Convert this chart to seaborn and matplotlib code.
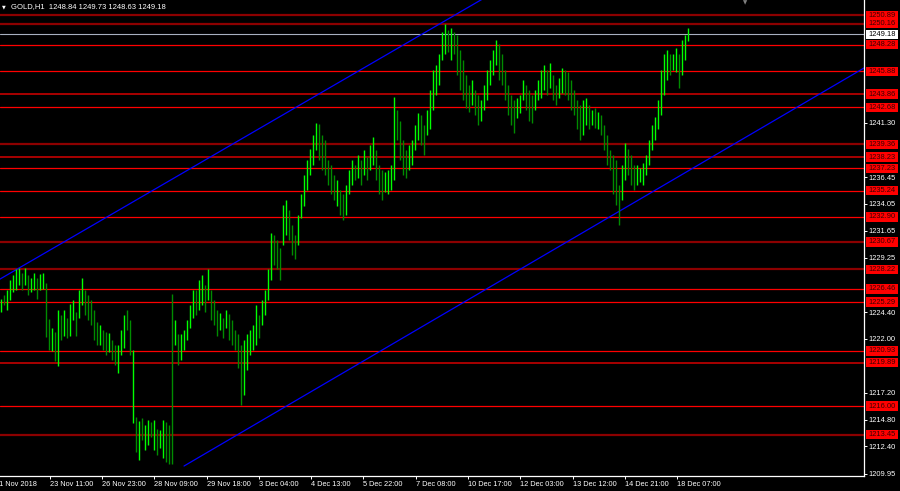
import seaborn as sns
import matplotlib.pyplot as plt
import pandas as pd
from matplotlib.patches import Rectangle
from matplotlib.transforms import blended_transform_factory

sns.set_theme(style="dark", rc={"axes.facecolor": "black", "figure.facecolor": "black",
                                "axes.grid": False})
plt.rcParams["font.family"] = ["Liberation Sans", "DejaVu Sans"]

# GOLD H1 bars (high / low per bar, U = bull, D = bear)
hi = [
    1225.6, 1225.9, 1226.4, 1227.3, 1227.7, 1228.2, 1228.3, 1227.9, 1228.3, 1227.7, 1227.4, 1227.9, 1227.4, 1227.8, 1227.9,
    1227.0, 1223.8, 1223.0, 1222.6, 1224.6,
    1224.1, 1224.6, 1223.9, 1225.1, 1225.5, 1224.4, 1226.4, 1227.4, 1226.4, 1225.9,
    1225.5, 1224.6, 1223.5, 1223.2, 1222.8, 1222.6, 1222.5, 1221.9, 1221.5, 1221.5, 1222.8, 1224.1, 1224.6, 1223.7,
    1221.0,
    1215.0, 1214.7, 1214.9, 1214.3, 1214.8, 1214.6, 1214.8, 1214.0, 1213.9, 1214.8, 1214.6, 1214.3,
    1226.0,
    1223.7, 1222.4, 1222.4, 1222.8, 1223.7,
    1225.0, 1226.4, 1226.4, 1227.3, 1227.7, 1226.8, 1228.2,
    1226.4, 1225.5, 1224.6, 1224.3, 1223.9, 1224.6, 1224.2, 1223.7,
    1222.8, 1222.4, 1221.5, 1221.9, 1222.4, 1222.8,
    1223.2, 1225.0, 1224.1, 1225.5, 1226.4, 1228.2,
    1231.5, 1231.3, 1230.8, 1230.1, 1234.0, 1234.4, 1233.5, 1232.2, 1231.3, 1233.1, 1234.9, 1236.6, 1238.0,
    1239.0, 1240.2, 1241.3, 1241.2, 1240.2, 1239.8, 1238.0, 1237.5, 1236.6, 1236.2, 1235.3, 1234.9, 1235.7,
    1237.1, 1238.0, 1237.5, 1238.4, 1238.0, 1238.9, 1238.2, 1239.3, 1240.0, 1238.9, 1237.5, 1237.1, 1236.9, 1237.1, 1237.5,
    1243.6, 1242.4, 1241.5, 1239.8, 1238.9, 1239.3, 1239.8, 1241.1, 1242.2, 1242.0, 1241.1, 1242.4, 1244.2, 1246.0, 1246.5, 1247.4,
    1249.4, 1250.1, 1249.6, 1249.8, 1249.4, 1249.1, 1247.8, 1246.9, 1245.6, 1244.7, 1245.1, 1244.2,
    1243.8, 1243.3, 1244.7, 1246.0, 1246.9, 1247.8, 1248.7, 1248.3, 1247.4, 1246.0, 1244.7, 1243.8,
    1243.3, 1243.5, 1243.8, 1245.1, 1244.7, 1244.2, 1243.8, 1244.2, 1245.1, 1246.0, 1246.5, 1246.0, 1246.6, 1245.6, 1244.7,
    1245.3, 1246.2, 1246.0, 1245.8, 1245.1, 1244.2, 1243.3, 1242.9, 1243.3, 1243.5, 1242.9, 1242.4, 1242.6, 1242.3, 1242.0,
    1241.1, 1240.2, 1238.9, 1238.4, 1238.0, 1235.7, 1237.5, 1239.5, 1239.0, 1238.4, 1237.5, 1237.5, 1237.3, 1237.7, 1238.4,
    1239.8, 1241.1, 1241.8, 1243.3, 1246.0, 1247.4, 1247.8, 1247.4, 1247.4, 1248.0, 1247.4, 1248.7, 1249.1, 1249.73,
]
lo = [
    1224.4, 1225.0, 1224.6, 1225.5, 1226.2, 1226.4, 1226.8, 1226.4, 1226.8, 1225.9, 1226.2, 1226.4, 1225.6, 1226.4, 1226.5,
    1222.2, 1221.0, 1220.9, 1220.0, 1219.6,
    1221.9, 1222.3, 1222.1, 1222.3, 1223.7, 1222.3, 1223.9, 1225.0, 1224.1, 1223.7,
    1223.2, 1221.9, 1221.5, 1221.5, 1221.0, 1220.6, 1220.8, 1220.1, 1219.7, 1219.0, 1220.6, 1221.2, 1222.8, 1220.6,
    1214.5,
    1211.9, 1211.2, 1213.0, 1212.1, 1212.5, 1213.2, 1212.1, 1211.6, 1212.3, 1211.4, 1211.0, 1210.8,
    1210.8,
    1221.5, 1219.7, 1220.1, 1221.0, 1221.9,
    1223.0, 1223.9, 1224.1, 1224.6, 1225.0, 1224.4, 1225.5,
    1223.7, 1223.2, 1222.3, 1222.8, 1222.1, 1223.0, 1221.9, 1221.5,
    1221.0, 1219.4, 1216.1, 1217.0, 1219.2, 1220.6,
    1221.0, 1221.5, 1222.1, 1223.2, 1224.1, 1225.5,
    1227.3, 1228.6, 1228.2, 1227.3, 1230.4, 1231.3, 1230.8, 1229.5, 1229.1, 1230.4, 1232.8, 1233.9, 1235.3,
    1236.6, 1237.5, 1238.9, 1238.0, 1237.1, 1236.6, 1235.7, 1234.9, 1234.4, 1233.9, 1233.1, 1232.6, 1233.1,
    1234.9, 1235.7, 1236.2, 1236.4, 1235.7, 1236.6, 1236.2, 1237.1, 1237.5, 1236.2, 1234.9, 1234.4, 1235.1, 1234.9, 1235.3,
    1236.2, 1239.8, 1238.0, 1236.6, 1236.4, 1237.1, 1237.5, 1238.9, 1239.8, 1239.3, 1238.4, 1240.2, 1240.7, 1242.4, 1243.8, 1244.7,
    1246.9, 1247.4, 1247.6, 1246.9, 1247.4, 1245.6, 1244.2, 1243.3, 1242.6, 1242.3, 1242.9, 1242.0,
    1241.1, 1241.5, 1242.4, 1243.3, 1244.7, 1245.6, 1246.5, 1245.1, 1244.7, 1243.3, 1242.0, 1241.1,
    1240.4, 1241.7, 1242.2, 1243.3, 1242.4, 1241.5, 1241.3, 1242.4, 1243.3, 1243.5, 1244.2, 1243.8, 1244.4, 1243.3, 1242.9,
    1243.5, 1244.0, 1243.8, 1243.3, 1242.4, 1242.0, 1240.7, 1239.8, 1240.2, 1241.1, 1240.7, 1241.1, 1240.8, 1240.7, 1240.2,
    1238.9, 1237.5, 1237.1, 1234.9, 1234.0, 1232.2, 1234.4, 1236.2, 1236.6, 1235.7, 1235.3, 1235.7, 1236.0, 1235.7, 1236.6,
    1237.5, 1238.9, 1239.8, 1240.7, 1242.0, 1243.8, 1245.1, 1245.6, 1246.0, 1245.8, 1244.4, 1245.6, 1246.9, 1248.63,
]
direction = list(
    "UDUUUUUDUDUUDUU" "DDUDU" "DUDUUDUUDD" "DDDUDDUDDUUUDD" "U" "DUDUUDUDUUDD" "D"
    "UDUUU" "UUDUUDU" "DDDUDUDD" "DDDUUU" "UUDUUU"
    "UDDDUUDDDUUUUUUUDDDDDDUDDU" "UUDUDUDUUDDDUUU" "UDDDDUUUUDDUUUUU"
    "UUDUDDDDDDUDDUUUUUUDDDDD" "DUUUDDDUUUUDUDDUUDDDDDDUUDUDUD"
    "DDDDDDUUDDDUUUUUUUUUUUDUUDUUU"
)

# horizontal levels drawn on the chart
levels = [1250.89, 1250.16, 1248.28, 1245.88, 1243.86, 1242.68, 1239.36, 1238.23, 1237.23,
          1235.24, 1232.90, 1230.67, 1228.22, 1226.46, 1225.29, 1220.93, 1219.89, 1216.00, 1213.45]
dark_levels = [1250.89, 1250.16, 1239.36, 1230.67, 1228.22, 1213.45]
mid_levels = [1243.86, 1238.23, 1219.89]
bid = 1249.18

# channel lines (bar index, price)
chan_up_x = [-1, 175]
chan_up_y = [1227.24, 1254.6]
chan_lo_x = [61, 288]
chan_lo_y = [1210.65, 1246.24]

# scale labels that are not hidden behind the line labels
price_ticks = [1209.95, 1212.40, 1214.80, 1217.20, 1222.00, 1224.40, 1229.25,
               1231.65, 1234.05, 1236.45, 1241.30]
time_tick_bars = [16.3, 33.7, 51, 68.7, 86, 103.3, 120.7, 138.3, 155.7, 173, 190.7, 208, 225.3]
time_labels = ["23 Nov 11:00", "26 Nov 23:00", "28 Nov 09:00", "29 Nov 18:00", "3 Dec 04:00",
               "4 Dec 13:00", "5 Dec 22:00", "7 Dec 08:00", "10 Dec 17:00", "12 Dec 03:00",
               "13 Dec 12:00", "14 Dec 21:00", "18 Dec 07:00"]

df = pd.DataFrame({"hi": hi, "lo": lo, "dir": direction})
df["bar"] = range(len(df))

fig = plt.figure(figsize=(9, 4.91), dpi=100)
ax = fig.add_axes([0, 15 / 491, 864 / 900, 476 / 491])
ax.set_facecolor("black")

for lv in levels:
    if lv in dark_levels:
        ax.axhline(lv, color="#8c0000", lw=1.6, zorder=1)
    elif lv in mid_levels:
        ax.axhline(lv, color="#c40000", lw=1.2, zorder=1)
    else:
        ax.axhline(lv, color="#ff0000", lw=0.9, zorder=1)
ax.axhline(bid, color="#a8b0c0", lw=0.8, zorder=1)

up = df[df["dir"] == "U"]
dn = df[df["dir"] == "D"]
ax.vlines(dn["bar"], dn["lo"], dn["hi"], colors="#008c00", lw=1.0, zorder=3)
ax.vlines(up["bar"], up["lo"], up["hi"], colors="#00ff00", lw=1.0, zorder=3)

sns.lineplot(x=chan_up_x, y=chan_up_y, color="#0000ff", lw=0.9, ax=ax, zorder=2)
sns.lineplot(x=chan_lo_x, y=chan_lo_y, color="#0000ff", lw=0.9, ax=ax, zorder=2)

ax.set_xlim(-1 / 3, 864 / 3 - 1 / 3)
ax.set_ylim(1209.76, 1252.26)

for s in ["top", "left"]:
    ax.spines[s].set_visible(False)
for s in ["right", "bottom"]:
    ax.spines[s].set_color("white")
    ax.spines[s].set_linewidth(0.9)

ax.yaxis.tick_right()
ax.set_yticks(price_ticks)
ax.set_yticklabels([f"{p:.2f}" for p in price_ticks])
ax.tick_params(axis="y", colors="white", labelsize=5.4, length=2, width=0.7, pad=1.5, left=False, right=True)
ax.set_xticks(time_tick_bars)
ax.set_xticklabels(time_labels, ha="left")
ax.tick_params(axis="x", colors="white", labelsize=5.3, length=2, width=0.7, pad=1.4, bottom=True)
ax.set_xlabel("")
ax.set_ylabel("")

# price labels on the right scale
tr = blended_transform_factory(fig.transFigure, ax.transData)
for lv in levels + [bid]:
    face = "white" if lv == bid else "#ff0000"
    txt = "black" if lv == bid else "#3a0000"
    ax.add_patch(Rectangle((866 / 900, lv - 0.42), 32 / 900, 0.84, transform=tr,
                           facecolor=face, edgecolor="none", zorder=6, clip_on=False))
    ax.text(868 / 900, lv, f"{lv:.2f}", transform=tr, ha="left", va="center",
            fontsize=5.4, color=txt, zorder=7, clip_on=False)

fig.text(-5 / 900, 1 - 484 / 491, "21 Nov 2018", color="white", fontsize=5.3, ha="left", va="center")
fig.text(2 / 900, 1 - 7 / 491, "▼", color="white", fontsize=3.5, ha="left", va="center",
         family=["DejaVu Sans"])
fig.text(11 / 900, 1 - 7 / 491, "GOLD,H1  1248.84 1249.73 1248.63 1249.18", color="white",
         fontsize=5.5, ha="left", va="center")
fig.text(745 / 900, 1 - 3 / 491, "▼", color="#808080", fontsize=4, ha="center", va="center",
         family=["DejaVu Sans"])

fig.savefig("out.png", dpi=100, facecolor="black")
